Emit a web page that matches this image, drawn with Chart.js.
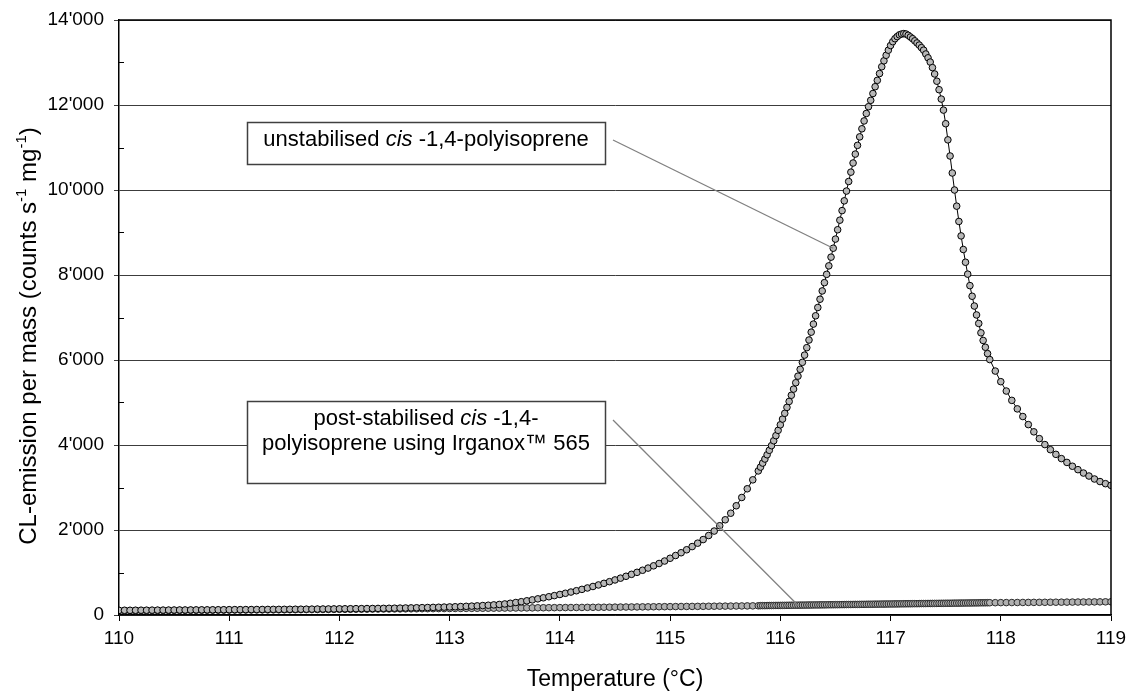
<!DOCTYPE html>
<html>
<head>
<meta charset="utf-8">
<script src="https://cdn.jsdelivr.net/npm/chart.js@4/dist/chart.umd.min.js"></script>
<style>
  body { margin: 0; background: #fff; }
  #wrap { width: 1128px; height: 691px; }
</style>
</head>
<body>
<div id="wrap"><canvas id="clChart" width="1128" height="691"></canvas></div>
<script>
// Temperature (°C) of each CL reading
const temperature = [
  110.00, 110.05, 110.10, 110.15, 110.20, 110.25, 110.30, 110.35, 110.40, 110.45,
  110.50, 110.55, 110.60, 110.65, 110.70, 110.75, 110.80, 110.85, 110.90, 110.95,
  111.00, 111.05, 111.10, 111.15, 111.20, 111.25, 111.30, 111.35, 111.40, 111.45,
  111.50, 111.55, 111.60, 111.65, 111.70, 111.75, 111.80, 111.85, 111.90, 111.95,
  112.00, 112.05, 112.10, 112.15, 112.20, 112.25, 112.30, 112.35, 112.40, 112.45,
  112.50, 112.55, 112.60, 112.65, 112.70, 112.75, 112.80, 112.85, 112.90, 112.95,
  113.00, 113.05, 113.10, 113.15, 113.20, 113.25, 113.30, 113.35, 113.40, 113.45,
  113.50,
  113.55, 113.60, 113.65, 113.70, 113.75, 113.80, 113.85, 113.90, 113.95, 114.00,
  114.05, 114.10, 114.15, 114.20, 114.25, 114.30, 114.35, 114.40, 114.45, 114.50,
  114.55, 114.60, 114.65, 114.70, 114.75, 114.80, 114.85, 114.90, 114.95, 115.00,
  115.05, 115.10, 115.15, 115.20, 115.25, 115.30, 115.35, 115.40, 115.45, 115.50,
  115.55, 115.60, 115.65, 115.70, 115.75, 115.80,
  115.82, 115.84, 115.86, 115.88, 115.90, 115.92, 115.94, 115.96, 115.98, 116.00,
  116.02, 116.04, 116.06, 116.08, 116.10, 116.12, 116.14, 116.16, 116.18, 116.20,
  116.22, 116.24, 116.26, 116.28, 116.30, 116.32, 116.34, 116.36, 116.38, 116.40,
  116.42, 116.44, 116.46, 116.48, 116.50, 116.52, 116.54, 116.56, 116.58, 116.60,
  116.62, 116.64, 116.66, 116.68, 116.70, 116.72, 116.74, 116.76, 116.78, 116.80,
  116.82, 116.84, 116.86, 116.88, 116.90, 116.92, 116.94, 116.96, 116.98, 117.00,
  117.02, 117.04, 117.06, 117.08, 117.10, 117.12, 117.14, 117.16, 117.18, 117.20,
  117.22, 117.24, 117.26, 117.28, 117.30, 117.32, 117.34, 117.36, 117.38, 117.40,
  117.42, 117.44, 117.46, 117.48, 117.50, 117.52, 117.54, 117.56, 117.58, 117.60,
  117.62, 117.64, 117.66, 117.68, 117.70, 117.72, 117.74, 117.76, 117.78, 117.80,
  117.82, 117.84, 117.86, 117.88, 117.90,
  117.95, 118.00, 118.05, 118.10, 118.15, 118.20, 118.25, 118.30, 118.35, 118.40,
  118.45, 118.50, 118.55, 118.60, 118.65, 118.70, 118.75, 118.80, 118.85, 118.90,
  118.95, 119.00
];

// CL-emission per mass, unstabilised cis-1,4-polyisoprene
const unstabilised = [
  110, 111, 111, 112, 113, 113, 114, 115, 115, 116,
  117, 118, 118, 119, 120, 121, 121, 122, 123, 124,
  125, 126, 126, 127, 128, 129, 130, 131, 132, 132,
  133, 134, 135, 136, 137, 138, 140, 141, 142, 143,
  145, 146, 147, 149, 150, 152, 153, 155, 156, 158,
  160, 162, 165, 167, 170, 173, 176, 179, 182, 186,
  190, 194, 199, 204, 209, 215, 222, 230, 238, 248,
  260,
  276, 294, 313, 334, 356, 380, 405, 430, 456, 483,
  511, 540, 571, 603, 636, 671, 707, 745, 784, 825,
  867, 911, 957, 1004, 1053, 1104, 1157, 1212, 1270, 1335,
  1400, 1465, 1535, 1610, 1690, 1775, 1870, 1975, 2100, 2240,
  2395, 2570, 2765, 2970, 3180, 3390,
  3480, 3575, 3670, 3770, 3875, 3985, 4100, 4220, 4345, 4475,
  4610, 4745, 4885, 5025, 5170, 5315, 5465, 5620, 5780, 5945,
  6115, 6290, 6470, 6655, 6845, 7040, 7235, 7430, 7625, 7820,
  8015, 8215, 8420, 8630, 8845, 9065, 9290, 9515, 9745, 9975,
  10200, 10420, 10635, 10845, 11050, 11250, 11440, 11625, 11800, 11960,
  12110, 12270, 12430, 12580, 12740, 12900, 13040, 13170, 13290, 13400,
  13490, 13560, 13610, 13650, 13670, 13680, 13670, 13640, 13600, 13560,
  13510, 13460, 13410, 13350, 13290, 13200, 13110, 13010, 12880, 12730,
  12560, 12360, 12140, 11880, 11560, 11180, 10800, 10400, 10000, 9620,
  9260, 8920, 8600, 8300, 8020, 7750, 7500, 7270, 7060, 6860,
  6640, 6460, 6300, 6150, 6010,
  5740, 5490, 5270, 5050, 4850, 4670, 4480, 4310, 4150, 4010,
  3890, 3780, 3680, 3590, 3500, 3420, 3340, 3270, 3200, 3140,
  3090, 3050
];

// CL-emission per mass, post-stabilised with Irganox 565
const postStabilised = [
  100, 101, 101, 102, 103, 103, 104, 105, 105, 106,
  107, 108, 108, 109, 110, 111, 111, 112, 113, 114,
  115, 116, 116, 117, 118, 119, 120, 120, 121, 122,
  123, 124, 125, 126, 127, 128, 129, 130, 131, 132,
  133, 134, 135, 136, 137, 138, 139, 140, 141, 142,
  143, 144, 145, 146, 147, 148, 149, 150, 151, 152,
  153, 154, 155, 156, 157, 158, 159, 160, 161, 162,
  163,
  164, 165, 166, 167, 168, 170, 171, 172, 173, 174,
  175, 176, 177, 178, 180, 181, 182, 183, 184, 185,
  187, 188, 189, 190, 191, 192, 194, 195, 196, 197,
  198, 200, 201, 202, 203, 204, 206, 207, 208, 209,
  210, 212, 213, 214, 215, 217,
  220, 221, 221, 222, 223, 223, 224, 225, 225, 226,
  227, 227, 228, 229, 229, 230, 231, 231, 232, 233,
  233, 234, 235, 235, 236, 237, 237, 238, 239, 239,
  240, 241, 241, 242, 243, 243, 244, 245, 245, 246,
  247, 247, 248, 249, 249, 250, 251, 251, 252, 253,
  253, 254, 255, 255, 256, 257, 257, 258, 259, 259,
  260, 261, 261, 262, 263, 263, 264, 265, 265, 266,
  267, 267, 268, 269, 269, 270, 271, 271, 272, 273,
  273, 274, 275, 275, 276, 277, 277, 278, 279, 279,
  280, 281, 281, 282, 283, 283, 284, 285, 285, 286,
  287, 287, 288, 289, 289,
  290, 291, 292, 293, 294, 295, 296, 297, 298, 299,
  300, 301, 302, 303, 304, 305, 306, 307, 308, 309,
  310, 311
];

const FONT = "Arial, 'Liberation Sans', sans-serif";

// label boxes (pixel layout) and the data point each leader line points at
const notes = [
  { box: [247, 122, 358, 42], lines: [[['unstabilised ', false], ['cis', true], [' -1,4-polyisoprene', false]]],
    from: [613, 140], series: 0, at: 116.48 },
  { box: [247, 401, 358, 82], lines: [[['post-stabilised ', false], ['cis', true], [' -1,4-', false]],
                                     [['polyisoprene using Irganox\u2122 565', false]]],
    from: [613, 420], series: 1, at: 116.16 }
];

function fmt(v) {
  return String(v).replace(/\B(?=(\d{3})+(?!\d))/g, "'");
}

function drawRuns(ctx, runs, cx, y, size) {
  let w = 0;
  runs.forEach(r => {
    ctx.font = (r[1] ? 'italic ' : '') + size + 'px ' + FONT;
    w += ctx.measureText(r[0]).width;
  });
  let x = cx - w / 2;
  runs.forEach(r => {
    ctx.font = (r[1] ? 'italic ' : '') + size + 'px ' + FONT;
    ctx.fillText(r[0], x, y);
    x += ctx.measureText(r[0]).width;
  });
}

const overlay = {
  id: 'overlay',
  afterDraw(chart) {
    const { ctx, chartArea: a, scales: { x, y } } = chart;
    ctx.save();

    // top + right frame
    ctx.strokeStyle = '#000';
    ctx.lineWidth = 1.5;
    ctx.beginPath();
    ctx.moveTo(a.left, a.top);
    ctx.lineTo(a.right, a.top);
    ctx.lineTo(a.right, a.bottom);
    ctx.stroke();

    // minor y ticks, inside
    ctx.lineWidth = 1;
    const t = y.ticks;
    for (let i = 0; i < t.length - 1; i++) {
      const py = Math.round(y.getPixelForValue((t[i].value + t[i + 1].value) / 2)) + 0.5;
      ctx.beginPath();
      ctx.moveTo(a.left, py);
      ctx.lineTo(a.left + 5, py);
      ctx.stroke();
    }

    ctx.fillStyle = '#000';
    ctx.textBaseline = 'alphabetic';

    // x title
    ctx.font = '23px ' + FONT;
    ctx.textAlign = 'center';
    ctx.fillText('Temperature (\u00B0C)', (a.left + a.right) / 2, 686);

    // y title with superscripts
    ctx.save();
    ctx.translate(36, 336);
    ctx.rotate(-Math.PI / 2);
    ctx.textAlign = 'left';
    const parts = [['CL-emission per mass (counts s', 0], ['-1', 1], [' mg', 0], ['-1', 1], [')', 0]];
    let total = 0;
    parts.forEach(p => {
      ctx.font = (p[1] ? 15 : 24) + 'px ' + FONT;
      total += ctx.measureText(p[0]).width;
    });
    let px = -total / 2;
    parts.forEach(p => {
      ctx.font = (p[1] ? 15 : 24) + 'px ' + FONT;
      ctx.fillText(p[0], px, p[1] ? -10 : 0);
      px += ctx.measureText(p[0]).width;
    });
    ctx.restore();

    // annotation boxes and leader lines
    notes.forEach(n => {
      const meta = chart.getDatasetMeta(n.series);
      const idx = temperature.indexOf(n.at);
      const pt = meta.data[idx];
      ctx.strokeStyle = '#808080';
      ctx.lineWidth = 1.3;
      ctx.beginPath();
      ctx.moveTo(n.from[0], n.from[1]);
      ctx.lineTo(pt.x, pt.y);
      ctx.stroke();

      const [bx, by, bw, bh] = n.box;
      ctx.fillStyle = '#fff';
      ctx.fillRect(bx, by, bw, bh);
      ctx.strokeStyle = '#404040';
      ctx.lineWidth = 1.5;
      ctx.strokeRect(bx + 0.5, by + 0.5, bw, bh);
      ctx.fillStyle = '#000';
      ctx.textAlign = 'left';
      n.lines.forEach((ln, i) => drawRuns(ctx, ln, bx + bw / 2, by + 24 + i * 25, 22));
    });

    ctx.restore();
  }
};

const ctx = document.getElementById('clChart').getContext('2d');
new Chart(ctx, {
  type: 'scatter',
  data: {
    datasets: [{
      label: 'unstabilised cis-1,4-polyisoprene',
      data: temperature.map((t, i) => ({ x: t, y: unstabilised[i] })),
      showLine: true,
      borderColor: '#000',
      borderWidth: 1,
      pointRadius: 3.3,
      pointBackgroundColor: '#b8b8b8',
      pointBorderColor: '#000',
      pointBorderWidth: 1
    }, {
      label: 'post-stabilised cis-1,4-polyisoprene using Irganox 565',
      data: temperature.map((t, i) => ({ x: t, y: postStabilised[i] })),
      showLine: true,
      borderColor: '#444',
      borderWidth: 1,
      pointRadius: 3.3,
      pointBackgroundColor: '#b0b0b0',
      pointBorderColor: '#2a2a2a',
      pointBorderWidth: 1
    }]
  },
  options: {
    responsive: false,
    animation: false,
    layout: { padding: { top: 20, right: 17, left: 0, bottom: 0 } },
    plugins: { legend: { display: false }, tooltip: { enabled: false } },
    scales: {
      x: {
        type: 'linear',
        min: 110, max: 119,
        afterFit: s => { s.height = 76; s.paddingRight = 0; s.paddingLeft = 0; },
        ticks: { stepSize: 1, color: '#000', padding: 6, font: { size: 19, family: FONT } },
        grid: { drawOnChartArea: false, drawTicks: true, tickLength: 6, color: '#000' },
        border: { color: '#000', width: 1.5 }
      },
      y: {
        min: 0, max: 14000,
        afterFit: s => { s.width = 119; s.paddingTop = 0; s.paddingBottom = 0; },
        ticks: { stepSize: 2000, color: '#000', padding: 10, callback: v => fmt(v), font: { size: 19, family: FONT } },
        grid: { color: '#3c3c3c', lineWidth: 1, tickLength: 5 },
        border: { color: '#000', width: 1.5 }
      }
    }
  },
  plugins: [overlay]
});
</script>
</body>
</html>
